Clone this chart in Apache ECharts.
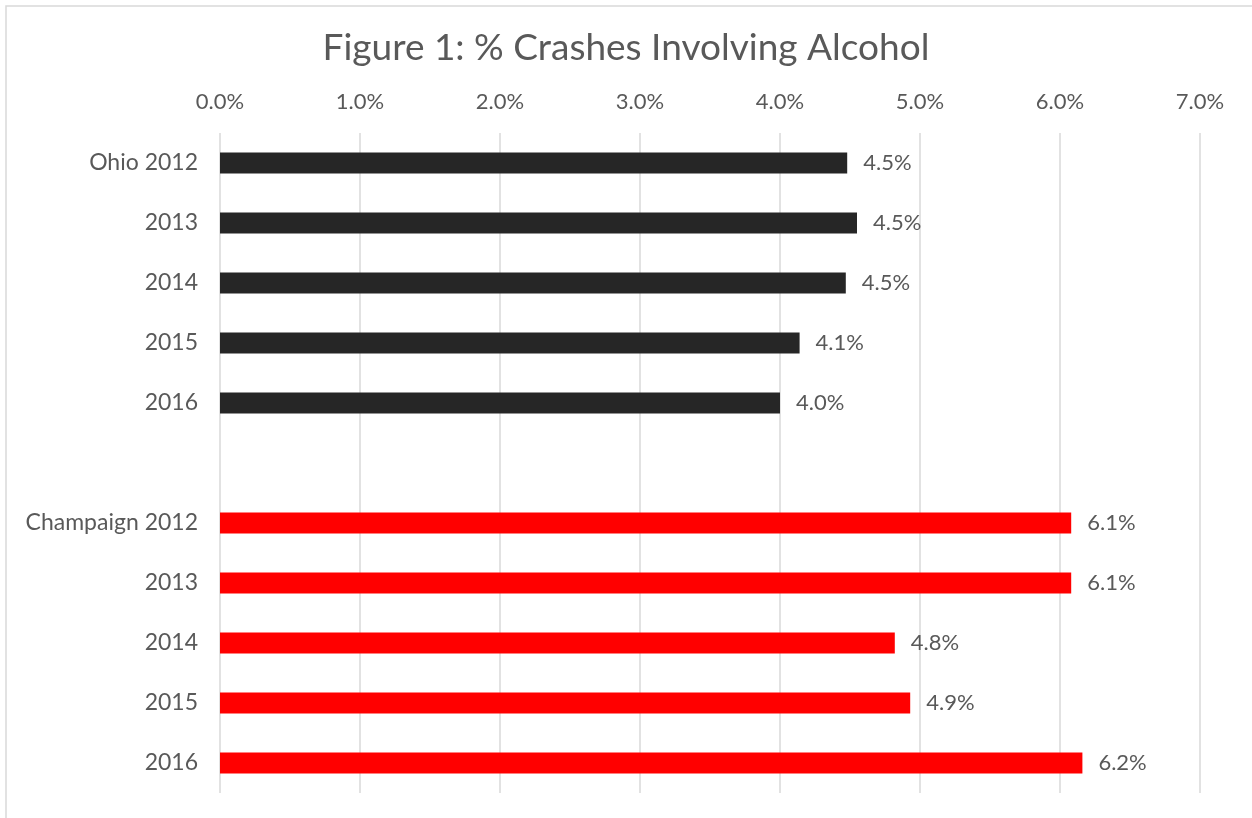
<!DOCTYPE html>
<html><head><meta charset="utf-8">
<script src="https://cdn.jsdelivr.net/npm/echarts@6/dist/echarts.min.js"></script>
<style>html,body{margin:0;padding:0;background:#fff}#c{width:1252px;height:818px}</style>
</head><body><div id="c"></div>
<script>
const categories = ['Ohio 2012','2013','2014','2015','2016','','Champaign 2012','2013','2014','2015','2016'];
const ohioValues = [4.48,4.55,4.47,4.14,4.00,null,null,null,null,null,null];
const champaignValues = [null,null,null,null,null,null,6.08,6.08,4.82,4.93,6.16];
const xTicks = [0,1,2,3,4,5,6,7];
const titleText = 'Figure 1: % Crashes Involving Alcohol';

const FONT = 'Lato';
const TXT = '#595959';
const chart = echarts.init(document.getElementById('c'));
const labelCfg = {show:true, position:'right', distance:16, color:TXT, fontFamily:FONT, fontSize:22,
  formatter: p => p.value == null ? '' : p.value.toFixed(1) + '%'};
chart.setOption({
  animation:false,
  backgroundColor:'#fff',
  graphic:[{type:'rect', shape:{x:6,y:6,width:1270,height:840}, style:{fill:'none', stroke:'#d9d9d9', lineWidth:1.5}, silent:true}],
  title:{text:titleText, left:'center', top:25, textStyle:{color:TXT, fontFamily:FONT, fontWeight:'normal', fontSize:37}},
  grid:{left:220, right:52, top:133, bottom:25},
  xAxis:{type:'value', position:'top', min:xTicks[0], max:xTicks[xTicks.length-1], interval:1,
    axisLine:{show:false}, axisTick:{show:false},
    splitLine:{lineStyle:{color:'#d9d9d9', width:1.5}},
    axisLabel:{color:TXT, fontFamily:FONT, fontSize:22, margin:20, formatter:v=>v.toFixed(1)+'%'}},
  yAxis:{type:'category', data:categories, inverse:true,
    axisLine:{show:false}, axisTick:{show:false},
    axisLabel:{color:TXT, fontFamily:FONT, fontSize:23, margin:22}},
  series:[
    {name:'Ohio', type:'bar', stack:'s', data:ohioValues, barWidth:21, itemStyle:{color:'#262626'}, label:labelCfg},
    {name:'Champaign', type:'bar', stack:'s', data:champaignValues, barWidth:21, itemStyle:{color:'#ff0000'}, label:labelCfg}
  ]
});
</script></body></html>
